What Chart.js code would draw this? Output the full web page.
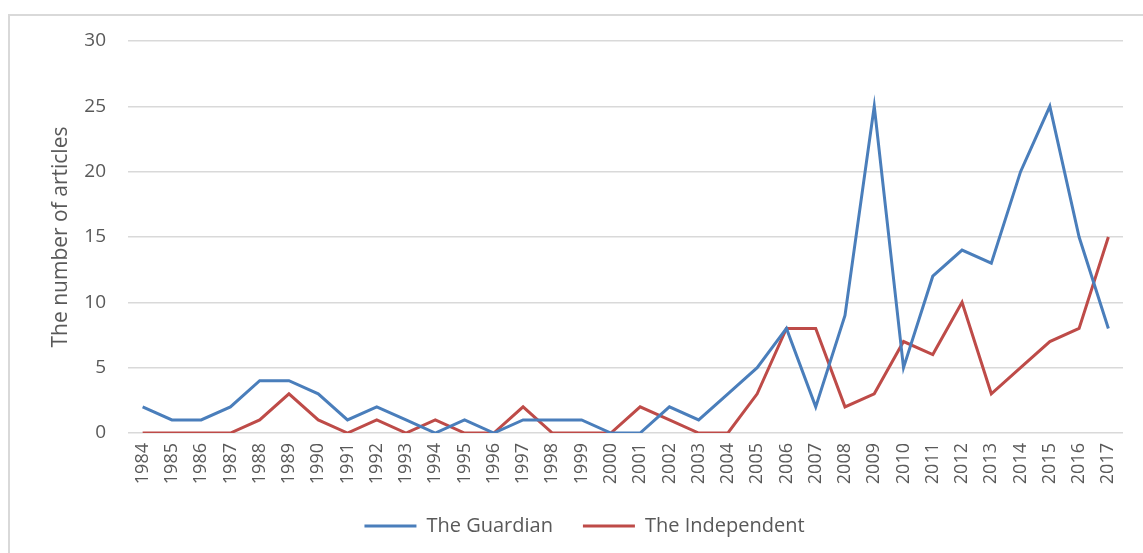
<!DOCTYPE html>
<html>
<head>
<meta charset="utf-8">
<script src="https://cdn.jsdelivr.net/npm/chart.js@4"></script>
<style>
    html, body { margin: 0; padding: 0; background: #fff; }
    body { width: 1143px; height: 553px; overflow: hidden; position: relative; }
    #frame {
        position: absolute; left: 8px; top: 14px; width: 1140px; height: 545px;
        border: 2px solid #d9d9d9; box-sizing: border-box;
    }
    #wrap { position: absolute; left: 0; top: 0; width: 1143px; height: 553px; }
</style>
</head>
<body>
<div id="frame"></div>
<div id="wrap"><canvas id="js-chart-articles"></canvas></div>
<script>
const years = ["1984", "1985", "1986", "1987", "1988", "1989", "1990", "1991", "1992", "1993",
    "1994", "1995", "1996", "1997", "1998", "1999", "2000", "2001", "2002", "2003",
    "2004", "2005", "2006", "2007", "2008", "2009", "2010", "2011", "2012", "2013",
    "2014", "2015", "2016", "2017"];
const guardian = [2, 1, 1, 2, 4, 4, 3, 1, 2, 1, 0, 1, 0, 1, 1, 1, 0, 0, 2, 1,
    3, 5, 8, 2, 9, 25, 5, 12, 14, 13, 20, 25, 15, 8];
const independent = [0, 0, 0, 0, 1, 3, 1, 0, 1, 0, 1, 0, 0, 2, 0, 0, 0, 2, 1, 0,
    0, 3, 8, 8, 2, 3, 7, 6, 10, 3, 5, 7, 8, 15];
const yTicks = [0, 5, 10, 15, 20, 25, 30];

Chart.defaults.font.family = "'Open Sans', 'DejaVu Sans', sans-serif";
Chart.defaults.color = "#595959";

let ctx = document.getElementById("js-chart-articles");
new Chart(ctx, {
    type: "line",
    data: {
        labels: years,
        datasets: [{
            label: "The Guardian",
            data: guardian,
            borderColor: "#4a7ebb",
            backgroundColor: "#4a7ebb",
            borderWidth: 3,
            pointRadius: 0,
            tension: 0,
            fill: false
        }, {
            label: "The Independent",
            data: independent,
            borderColor: "#be4b48",
            backgroundColor: "#be4b48",
            borderWidth: 3,
            pointRadius: 0,
            tension: 0,
            fill: false
        }]
    },
    options: {
        responsive: true,
        maintainAspectRatio: false,
        animation: false,
        layout: {
            // left padding also moves the legend centre to the right
            padding: { top: 41, right: 20, bottom: 7, left: 46 }
        },
        scales: {
            x: {
                offset: true,
                grid: { display: false, drawTicks: false },
                border: { display: false },
                ticks: {
                    autoSkip: false,
                    minRotation: 90,
                    maxRotation: 90,
                    padding: 10,
                    font: { size: 18 },
                    color: "#595959"
                },
                afterFit: function (s) { s.height = 53; }
            },
            y: {
                min: 0,
                max: 30,
                afterBuildTicks: function (s) { s.ticks = yTicks.map(v => ({ value: v })); },
                grid: { color: "#d9d9d9", lineWidth: 1.5, drawTicks: false },
                border: { display: false },
                ticks: {
                    padding: 22,
                    font: { size: 19 },
                    color: "#595959"
                },
                title: {
                    display: true,
                    text: "The number of articles",
                    font: { size: 21 },
                    color: "#595959",
                    padding: { top: 2, bottom: 0 }
                },
                afterFit: function (s) { s.width = 82; }
            }
        },
        plugins: {
            legend: {
                position: "bottom",
                labels: {
                    usePointStyle: true,
                    pointStyle: "line",
                    pointStyleWidth: 52,
                    padding: 30,
                    font: { size: 20 },
                    color: "#595959"
                }
            },
            tooltip: { enabled: false }
        }
    }
});
</script>
</body>
</html>
